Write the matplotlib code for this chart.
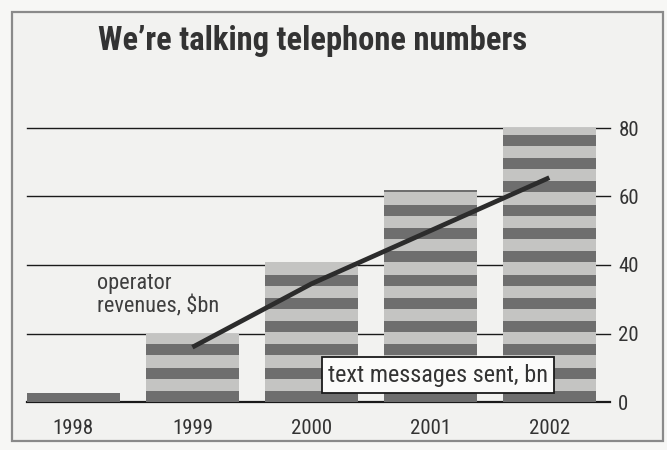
# -*- coding: utf-8 -*-
# Text messages vs operator revenues, 1998-2002
import numpy as np
import matplotlib
matplotlib.use('Agg')
import matplotlib.pyplot as plt
from matplotlib import font_manager
from matplotlib.patches import Rectangle

# ---------------------------------------------------------------- data
years = ['1998', '1999', '2000', '2001', '2002']
messages_bn = [2.5, 20, 41, 62, 80]          # text messages sent, bn (bars)
revenue_years = ['1999', '2000', '2001', '2002']
revenues_bn = [16, 34.5, 50, 65.5]           # operator revenues, $bn (line)
yticks = [0, 20, 40, 60, 80]

# ---------------------------------------------------------------- fonts
installed = {f.name for f in font_manager.fontManager.ttflist}
family = 'DejaVu Sans'
stretch = 'condensed'
for name in ['Liberation Sans Narrow', 'Roboto Condensed', 'Open Sans Condensed']:
    if name in installed:
        family = name
        stretch = 'normal'
        break
plt.rcParams['font.family'] = family
plt.rcParams['font.stretch'] = stretch

# ---------------------------------------------------------------- colours
bg = '#f2f2f0'
dark = '#6e6e6e'
light = '#c4c4c2'
ink = '#333333'

# ---------------------------------------------------------------- figure
fig = plt.figure(figsize=(6.67, 4.5), dpi=100, facecolor='#f7f7f5')
# panel frame, kept behind the axes
frame = Rectangle((12 / 667, 1 - 441 / 450), 651 / 667, 429 / 450,
                  transform=fig.transFigure, facecolor=bg,
                  edgecolor='#8a8a8a', linewidth=1.6, zorder=-10)
fig.add_artist(frame)

#                   [left, bottom, width, height]
ax = fig.add_axes([27 / 667, 48 / 450, 583 / 667, 274 / 450])
ax.set_facecolor('none')
ax.set_zorder(5)

x = np.arange(len(years))
width = 0.78
ax.set_xlim(-0.39, 4.51)
ax.set_ylim(0, 80)

# gridlines run under the bars
for yv in yticks:
    ax.axhline(yv, color='#1a1a1a', lw=1.6 if yv == 0 else 1.0,
               zorder=1, clip_on=False)

# striped bars: alternating dark/light bands stacked from zero
period = 6.8
dark_h = 3.2
for xi, h in zip(x, messages_bn):
    b = 0.0
    while b < h:
        d = min(dark_h, h - b)
        ax.bar(xi, d, width=width, bottom=b, color=dark, lw=0, zorder=2)
        b += d
        if b >= h:
            break
        l = min(period - dark_h, h - b)
        ax.bar(xi, l, width=width, bottom=b, color=light, lw=0, zorder=2)
        b += l

# revenue line
xr = [years.index(y) for y in revenue_years]
ax.plot(xr, revenues_bn, color='#2c2c2c', lw=3.4, solid_capstyle='butt',
        zorder=4)

# axes styling
for s in ax.spines.values():
    s.set_visible(False)
ax.set_xticks(x)
ax.set_xticklabels(years)
ax.set_yticks(yticks)
ax.set_yticklabels([str(v) for v in yticks])
ax.yaxis.tick_right()
ax.tick_params(axis='both', length=0, labelsize=15, colors=ink)
ax.tick_params(axis='x', pad=12)
ax.tick_params(axis='y', pad=6)

# labels
ax.text(0.12, 0.39, 'operator\nrevenues, \\$bn', transform=ax.transAxes,
        ha='left', va='center', fontsize=16, color='#3e3e3e',
        linespacing=1.05, zorder=5)
ax.text(0.705, 0.0985, 'text messages sent, bn', transform=ax.transAxes,
        ha='center', va='center', fontsize=17.5, color=ink, zorder=6,
        bbox=dict(boxstyle='square,pad=0.25', facecolor='#fbfbfa',
                  edgecolor='#1a1a1a', linewidth=1.3))

fig.text(0.468, 1 - 41 / 450, "We\u2019re talking telephone numbers",
         ha='center', va='center', fontsize=23.5, fontweight='bold', color=ink)

plt.savefig('out.png', dpi=100, facecolor=fig.get_facecolor())
